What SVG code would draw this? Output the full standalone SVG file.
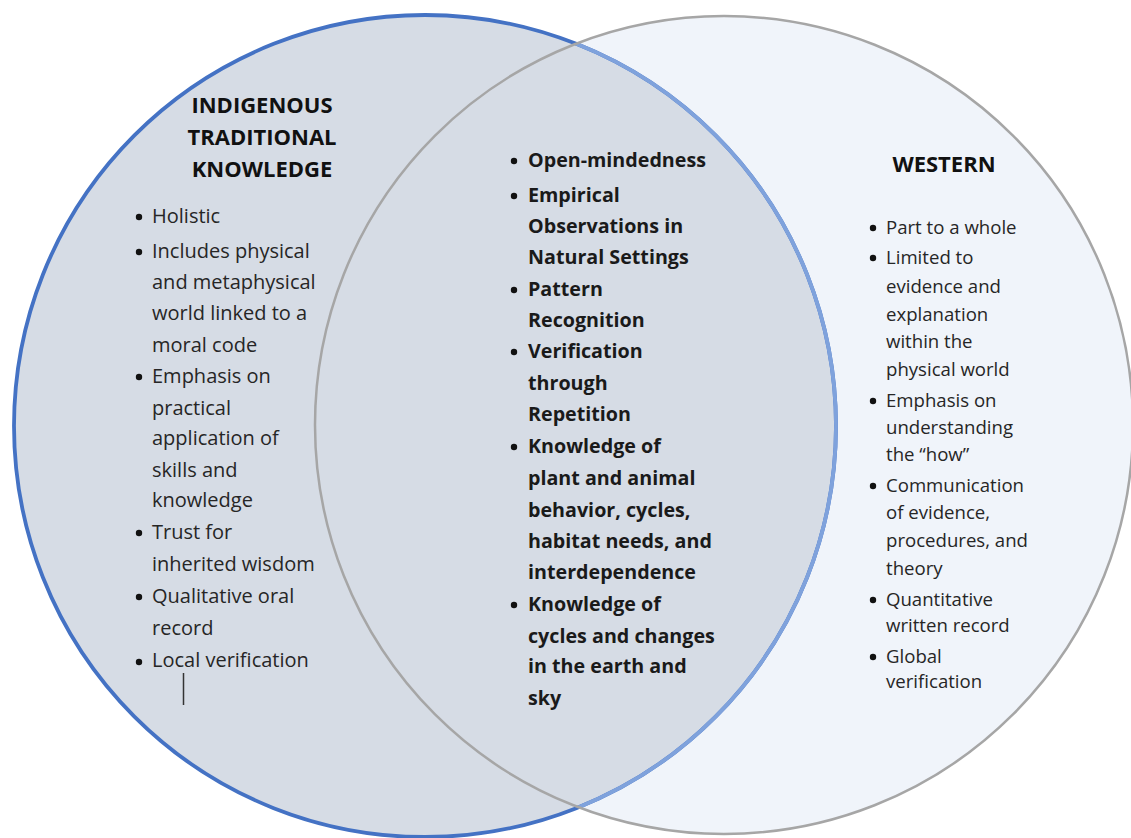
<svg xmlns="http://www.w3.org/2000/svg" width="1131" height="838" viewBox="0 0 1131 838">
<style>
.t{font-family:"Open Sans","Noto Sans",sans-serif;fill:#262626}
.h{font-family:"Open Sans","Noto Sans",sans-serif;font-weight:bold;font-size:22px;fill:#111;text-anchor:middle}
.l{font-size:20px}
.m{font-size:19.7px;font-weight:bold;fill:#1a1a1a}
.r{font-size:18.6px}
.b{fill:#111}
</style>
<defs>
<clipPath id="rc"><circle cx="724" cy="425" r="409"/></clipPath>
</defs>
<rect width="1131" height="838" fill="#ffffff"/>
<g id="circles">
<circle cx="724" cy="425" r="409" fill="#F0F4FA"/>
<circle cx="425" cy="426" r="411" fill="#D6DCE5" stroke="#4472C4" stroke-width="3.8"/>
<circle cx="425" cy="426" r="411" fill="none" stroke="#7FA2DC" stroke-width="3.8" clip-path="url(#rc)"/>
<circle cx="724" cy="425" r="409" fill="none" stroke="#A6A6A6" stroke-width="2.5"/>
</g>
<g id="indigenous">
<text class="h" x="262" y="113">INDIGENOUS</text>
<text class="h" x="262" y="145">TRADITIONAL</text>
<text class="h" x="262" y="177">KNOWLEDGE</text>
<g class="b">
<circle cx="139" cy="217" r="3.2"/><circle cx="139" cy="252" r="3.2"/><circle cx="139" cy="377" r="3.2"/><circle cx="139" cy="533" r="3.2"/><circle cx="139" cy="597" r="3.2"/><circle cx="139" cy="662" r="3.2"/>
</g>
<g class="t l">
<text x="152" y="223">Holistic</text>
<text x="152" y="258">Includes physical</text>
<text x="152" y="289">and metaphysical</text>
<text x="152" y="320">world linked to a</text>
<text x="152" y="352">moral code</text>
<text x="152" y="383">Emphasis on</text>
<text x="152" y="415">practical</text>
<text x="152" y="445">application of</text>
<text x="152" y="477">skills and</text>
<text x="152" y="507">knowledge</text>
<text x="152" y="539">Trust for</text>
<text x="152" y="571">inherited wisdom</text>
<text x="152" y="603">Qualitative oral</text>
<text x="152" y="635">record</text>
<text x="152" y="667">Local verification</text>
</g>
<line x1="183.5" y1="673" x2="183.5" y2="705" stroke="#333" stroke-width="1.5"/>
</g>
<g id="shared">
<g class="b">
<circle cx="514" cy="161" r="3.2"/><circle cx="514" cy="196" r="3.2"/><circle cx="514" cy="290" r="3.2"/><circle cx="514" cy="352" r="3.2"/><circle cx="514" cy="447" r="3.2"/><circle cx="514" cy="605" r="3.2"/>
</g>
<g class="t m">
<text x="528" y="167">Open-mindedness</text>
<text x="528" y="202">Empirical</text>
<text x="528" y="233">Observations in</text>
<text x="528" y="264">Natural Settings</text>
<text x="528" y="296">Pattern</text>
<text x="528" y="327">Recognition</text>
<text x="528" y="358">Verification</text>
<text x="528" y="390">through</text>
<text x="528" y="421">Repetition</text>
<text x="528" y="453">Knowledge of</text>
<text x="528" y="485">plant and animal</text>
<text x="528" y="517">behavior, cycles,</text>
<text x="528" y="548">habitat needs, and</text>
<text x="528" y="579">interdependence</text>
<text x="528" y="611">Knowledge of</text>
<text x="528" y="643">cycles and changes</text>
<text x="528" y="673">in the earth and</text>
<text x="528" y="705">sky</text>
</g>
</g>
<g id="western">
<text class="h" x="944" y="172">WESTERN</text>
<g class="b">
<circle cx="873" cy="228" r="3.2"/><circle cx="873" cy="258" r="3.2"/><circle cx="873" cy="401" r="3.2"/><circle cx="873" cy="486" r="3.2"/><circle cx="873" cy="600" r="3.2"/><circle cx="873" cy="657" r="3.2"/>
</g>
<g class="t r">
<text x="886" y="234">Part to a whole</text>
<text x="886" y="264">Limited to</text>
<text x="886" y="293">evidence and</text>
<text x="886" y="321">explanation</text>
<text x="886" y="348">within the</text>
<text x="886" y="376">physical world</text>
<text x="886" y="407">Emphasis on</text>
<text x="886" y="434">understanding</text>
<text x="886" y="461">the “how”</text>
<text x="886" y="492">Communication</text>
<text x="886" y="519">of evidence,</text>
<text x="886" y="547">procedures, and</text>
<text x="886" y="575">theory</text>
<text x="886" y="606">Quantitative</text>
<text x="886" y="632">written record</text>
<text x="886" y="663">Global</text>
<text x="886" y="688">verification</text>
</g>
</g>
</svg>
